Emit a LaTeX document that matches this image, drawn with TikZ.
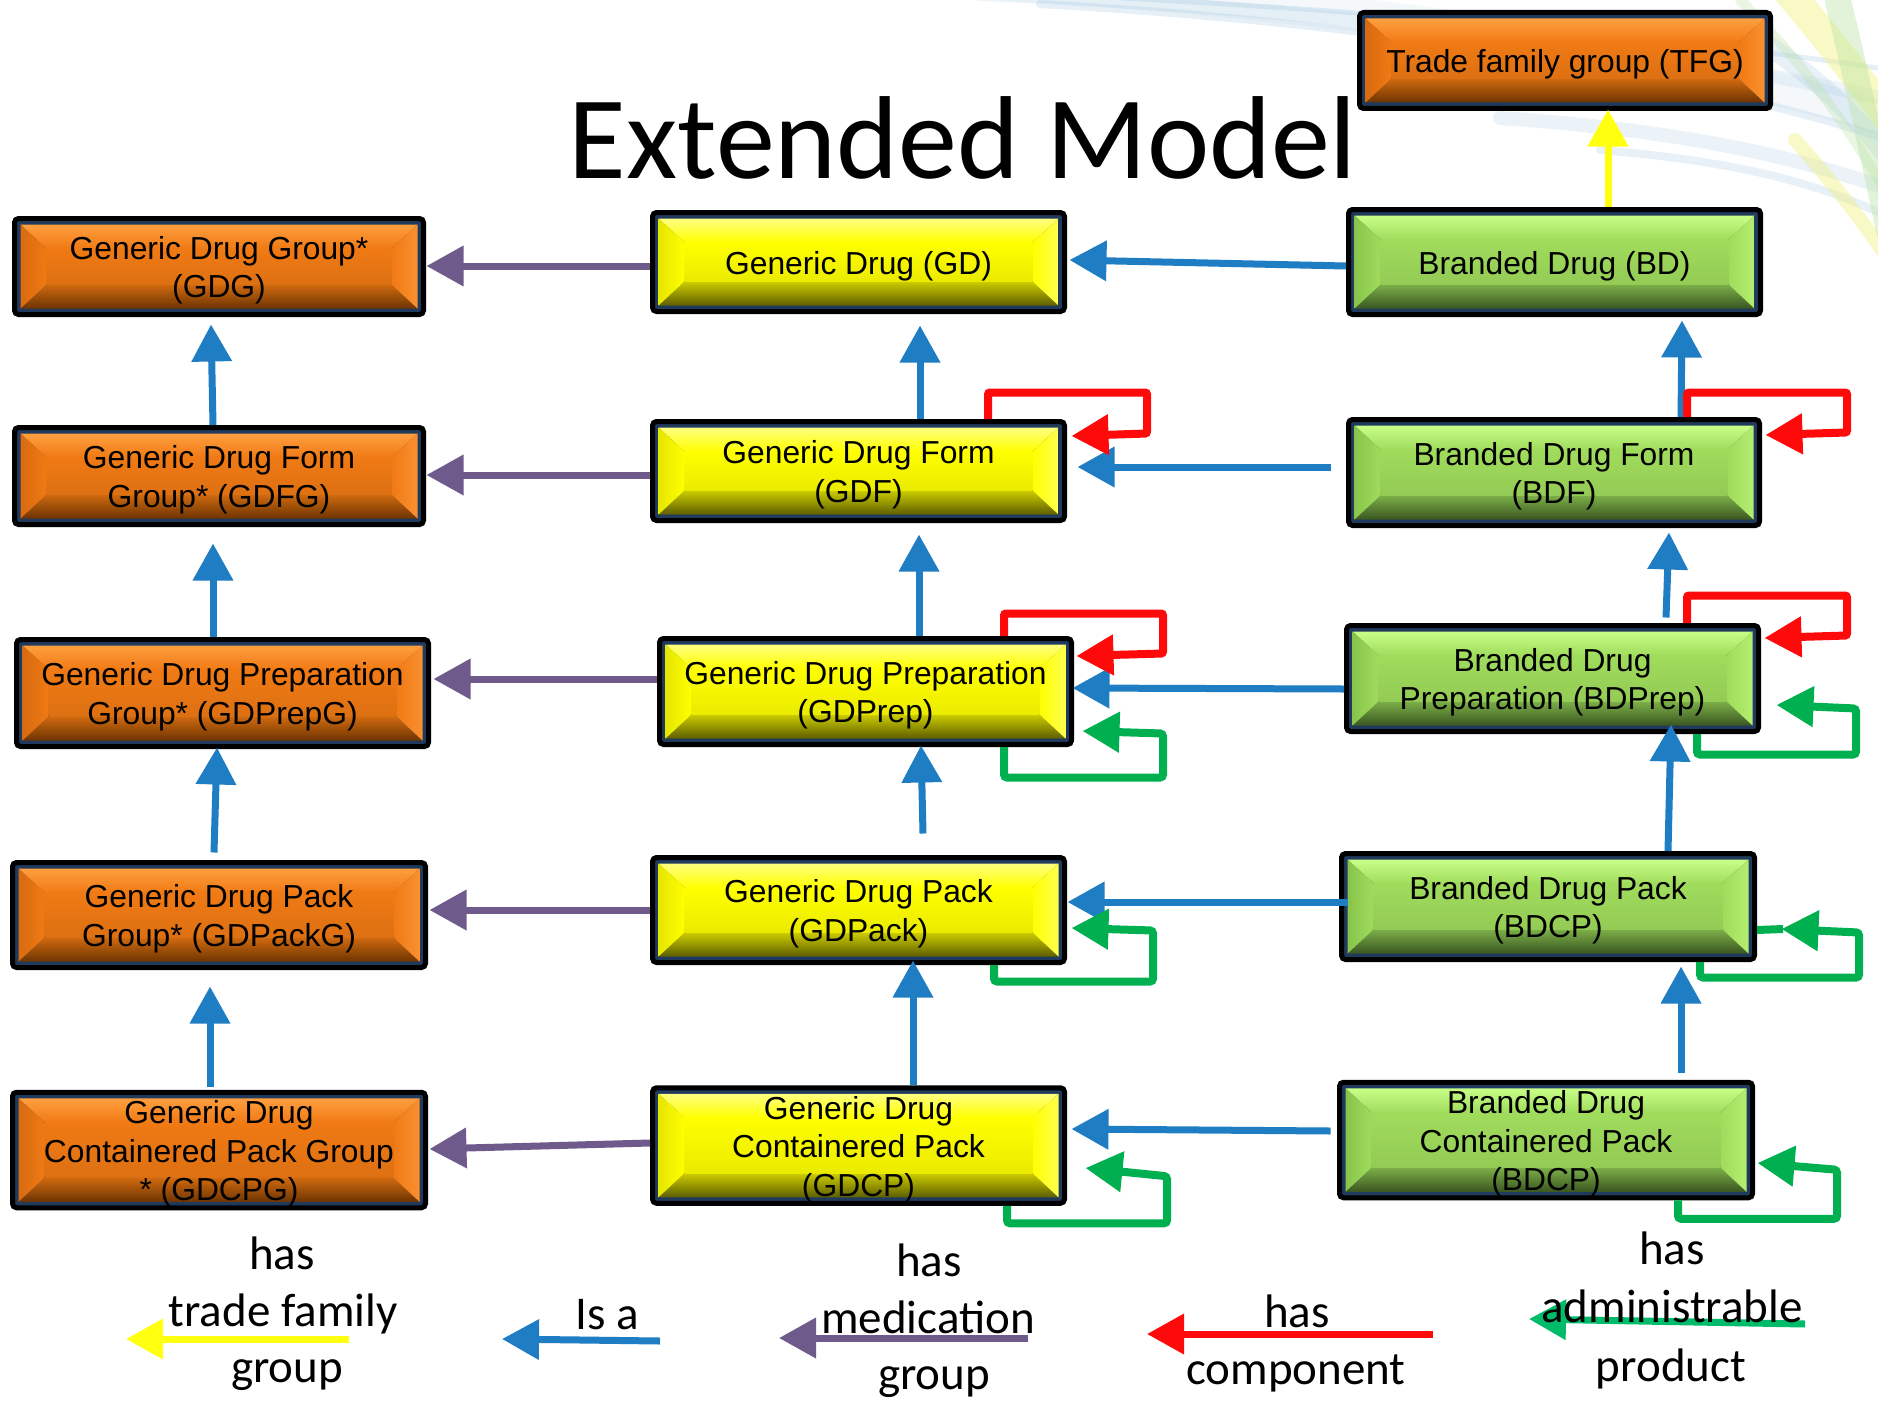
\documentclass[tikz,border=0pt]{standalone}
\usepackage{fontspec}
\newfontfamily\boxfont{Liberation Sans}
\newfontfamily\calfont{Carlito}
\usetikzlibrary{arrows.meta,calc}

% box colours
\definecolor{navyframe}{HTML}{1F3A5C}
\definecolor{boxorange}{HTML}{F07A14}
\definecolor{orangelight}{HTML}{FF9F40}
\definecolor{orangedark}{HTML}{D06A10}
\definecolor{orangedeep}{HTML}{6E3400}
\definecolor{orangeleft}{HTML}{D86A10}
\definecolor{orangeright}{HTML}{FA9030}
\definecolor{boxyellow}{HTML}{FFFF00}
\definecolor{yellowlight}{HTML}{FFFF80}
\definecolor{yellowdark}{HTML}{CDCD00}
\definecolor{yellowdeep}{HTML}{5E5E00}
\definecolor{yellowleft}{HTML}{E6E600}
\definecolor{yellowright}{HTML}{FFFF50}
\definecolor{boxgreen}{HTML}{A0DC5C}
\definecolor{greenlight}{HTML}{C8FF88}
\definecolor{greendark}{HTML}{7CAF48}
\definecolor{greendeep}{HTML}{3A5620}
\definecolor{greenleft}{HTML}{88C44A}
\definecolor{greenright}{HTML}{B4EE70}
% relation colours
\definecolor{isablue}{HTML}{1F7DC4}
\definecolor{medpurple}{HTML}{6E5B8C}
\definecolor{compred}{HTML}{FF0A0A}
\definecolor{admgreen}{HTML}{00B050}
\definecolor{tfyellow}{HTML}{FFFF10}
% background streaks
\definecolor{swblue}{HTML}{9CC3E0}
\definecolor{swyellow}{HTML}{F0F070}
\definecolor{swgreen}{HTML}{B6E2A0}

\tikzset{
  bevelbox/.style n args={6}{% face, light, dark, deep, left, right
    rectangle, rounded corners=4pt, draw=black, line width=5pt,
    inner sep=0pt, align=center, text=black,
    font=\boxfont\fontsize{31.8}{38.5}\selectfont,
    path picture={
      \coordinate (pp-sw) at (path picture bounding box.south west);
      \coordinate (pp-ne) at (path picture bounding box.north east);
      \fill[navyframe, sharp corners] (pp-sw) rectangle (pp-ne);
      \coordinate (o-sw) at ($(pp-sw)+(6pt,6pt)$);
      \coordinate (o-ne) at ($(pp-ne)+(-6pt,-6pt)$);
      \coordinate (i-sw) at ($(o-sw)+(26pt,24pt)$);
      \coordinate (i-ne) at ($(o-ne)+(-26pt,-24pt)$);
      \shade[sharp corners, top color=#2, bottom color=#1]
        (o-sw |- o-ne) -- (o-ne) -- (i-ne) -- (i-sw |- i-ne) -- cycle;
      \shade[sharp corners, top color=#3, bottom color=#4]
        (o-sw) -- (o-ne |- o-sw) -- (i-ne |- i-sw) -- (i-sw) -- cycle;
      \shade[sharp corners, left color=#5, right color=#1]
        (o-sw) -- (i-sw) -- (i-sw |- i-ne) -- (o-sw |- o-ne) -- cycle;
      \shade[sharp corners, left color=#1, right color=#6]
        (o-ne |- o-sw) -- (i-ne |- i-sw) -- (i-ne) -- (o-ne) -- cycle;
      \shade[sharp corners, top color=#1, bottom color=#1!92!black]
        (i-sw) rectangle (i-ne);
    }
  },
  orangebox/.style={bevelbox={boxorange}{orangelight}{orangedark}{orangedeep}{orangeleft}{orangeright}},
  yellowbox/.style={bevelbox={boxyellow}{yellowlight}{yellowdark}{yellowdeep}{yellowleft}{yellowright}},
  greenbox/.style={bevelbox={boxgreen}{greenlight}{greendark}{greendeep}{greenleft}{greenright}},
  conn/.style={line width=7pt, -{Triangle[width=39pt,length=37pt]}},
  isa/.style={conn, draw=isablue},
  medgrp/.style={conn, draw=medpurple},
  tradefam/.style={conn, draw=tfyellow},
  hascomp/.style={conn, draw=compred, line width=8pt, rounded corners=2pt},
  hasadm/.style={conn, draw=admgreen, line width=8pt, rounded corners=3pt},
  admline/.style={draw=admgreen, line width=8pt},
  legtext/.style={inner sep=0pt, anchor=base, text=black,
    font=\calfont\fontsize{47}{57}\selectfont},
}

% \drugbox{name}{style}{x1}{y1}{x2}{y2}{text}: box given by its outer edges,
% text lines set on struts and lowered a little below the centre
\newcommand\drugbox[7]{%
  \node[#2, minimum width={#5pt-#3pt-5pt}, minimum height={#6pt-#4pt-5pt}]
    (#1) at ({(#3+#5)/2},{(#4+#6)/2})
    {\raisebox{-4.5pt}[\height][\depth]{\begin{tabular}{@{}c@{}}#7\end{tabular}}};}

\begin{document}
\begin{tikzpicture}[x=1pt, y=-1pt]
  % canvas
  \fill[white] (0,0) rectangle (1878,1402);
  \useasboundingbox (0,0) rectangle (1878,1402);

  % faint streaks of the slide background, top right
  \begin{scope}[line cap=round]
    \draw[swblue, line width=34, opacity=0.10] (980,-18) .. controls (1330,2) and (1640,45) .. (1890,120);
    \draw[swblue, line width=14, opacity=0.16] (980,-6) .. controls (1300,8) and (1620,40) .. (1890,100);
    \draw[swblue, line width=8, opacity=0.24] (1040,4) .. controls (1360,22) and (1660,66) .. (1890,140);
    \draw[swblue, line width=5, opacity=0.26] (1120,-2) .. controls (1420,14) and (1700,40) .. (1890,70);
    \draw[swblue, line width=14, opacity=0.20] (1500,118) .. controls (1650,128) and (1780,150) .. (1890,190);
    \draw[swblue, line width=8, opacity=0.22] (1600,150) .. controls (1720,160) and (1810,178) .. (1890,218);
    \draw[swblue, line width=20, opacity=0.22] (1760,40) .. controls (1820,80) and (1860,120) .. (1890,160);
    \draw[swyellow, line width=30, opacity=0.40] (1785,-12) .. controls (1825,35) and (1860,80) .. (1890,120);
    \draw[swgreen, line width=26, opacity=0.38] (1835,-12) .. controls (1855,70) and (1872,150) .. (1890,235);
    \draw[swyellow, line width=14, opacity=0.38] (1795,140) .. controls (1835,185) and (1862,220) .. (1890,262);
    \draw[swgreen, line width=10, opacity=0.30] (1740,0) .. controls (1790,50) and (1840,110) .. (1890,200);
  \end{scope}

  % title
  \node[anchor=base, inner sep=0pt, font=\calfont\fontsize{118}{134}\selectfont]
    (title) at (963,178) {Extended Model};

  % generic group column
  \drugbox{GDG}{orangebox}{12}{216}{426}{317}{Generic Drug Group*\\(GDG)}
  \drugbox{GDFG}{orangebox}{12}{425}{426}{527}{Generic Drug Form\\Group* (GDFG)}
  \drugbox{GDPrepG}{orangebox}{14}{637}{431}{749}{Generic Drug Preparation\\Group* (GDPrepG)}
  \drugbox{GDPackG}{orangebox}{10}{860}{428}{970}{Generic Drug Pack\\Group* (GDPackG)}
  \drugbox{GDCPG}{orangebox}{10}{1095}{428}{1205}{Generic Drug\\Containered Pack Group\\{*} (GDCPG)}

  % generic column
  \drugbox{GD}{yellowbox}{650}{210}{1067}{314}{Generic Drug (GD)}
  \drugbox{GDF}{yellowbox}{650}{419}{1067}{523}{Generic Drug Form\\(GDF)}
  \drugbox{GDPrep}{yellowbox}{657}{636}{1074}{747}{Generic Drug Preparation\\(GDPrep)}
  \drugbox{GDPack}{yellowbox}{650}{855}{1067}{965}{Generic Drug Pack\\(GDPack)}
  \drugbox{GDCP}{yellowbox}{650}{1090}{1067}{1201}{Generic Drug\\Containered Pack\\(GDCP)}

  % branded column
  \drugbox{TFG}{orangebox}{1357}{10}{1773}{111}{Trade family group (TFG)}
  \drugbox{BD}{greenbox}{1346}{207}{1763}{317}{Branded Drug (BD)}
  \drugbox{BDF}{greenbox}{1346}{417}{1762}{528}{Branded Drug Form\\(BDF)}
  \drugbox{BDPrep}{greenbox}{1344}{623}{1761}{734}{Branded Drug\\Preparation (BDPrep)}
  \drugbox{BDPack}{greenbox}{1339}{851}{1757}{962}{Branded Drug Pack\\(BDCP)}
  \drugbox{BDCP}{greenbox}{1337}{1084}{1755}{1196}{Branded Drug\\Containered Pack\\(BDCP)}

  % is a: upwards
  \draw[isa] ($(GDFG.north)+(-6,0)$) -- ($(GDG.south)+(-8,7.5)$);
  \draw[isa] ($(GDPrepG.north)+(-9.5,0)$) -- ($(GDFG.south)+(-6,16.5)$);
  \draw[isa] ($(GDPackG.north)+(-5,-7.5)$) -- ($(GDPrepG.south)+(-5.5,-1.5)$);
  \draw[isa] ($(GDCPG.north)+(-9,-2.5)$) -- ($(GDPackG.south)+(-9,16.5)$);
  \draw[isa] ($(GDF.north)+(61.5,0)$) -- ($(GD.south)+(61.5,11.5)$);
  \draw[isa] ($(GDPrep.north)+(53.5,0)$) -- ($(GDF.south)+(60.5,11.5)$);
  \draw[isa] ($(GDPack.north)+(64.5,-21.5)$) -- ($(GDPrep.south)+(55.5,-1.5)$);
  \draw[isa] ($(GDCP.north)+(54.5,0)$) -- ($(GDPack.south)+(54.5,-4.5)$);
  \draw[isa] ($(BDF.north)+(127,0)$) -- ($(BD.south)+(127.5,3.5)$);
  \draw[isa] ($(BDPrep.north)+(113.5,-5.5)$) -- ($(BDF.south)+(115,4.5)$);
  \draw[isa] ($(BDPack.north)+(120,0)$) -- ($(BDPrep.south)+(118.5,-9.5)$);
  \draw[isa] ($(BDCP.north)+(135,-6.5)$) -- ($(BDPack.south)+(133,4.5)$);

  % has trade family group
  \draw[tradefam] ($(BD.north)+(53.5,0)$) -- ($(TFG.south)+(43,-1.5)$);

  % is a: branded to generic
  \draw[isa] ($(BD.west)+(0,4)$) -- ($(GD.east)+(2.5,-2)$);
  \draw[isa] ($(BDF.west)+(-15.5,-5.5)$) -- ($(GDF.east)+(10.5,-4)$);
  \draw[isa] ($(BDPrep.west)+(0,10.5)$) -- ($(GDPrep.east)+(-1.5,-3.5)$);
  \draw[isa] ($(BDPack.west)+(8.5,-4.5)$) -- ($(GDPack.east)+(0.5,-8)$);
  \draw[isa] ($(BDCP.west)+(-6.5,-9)$) -- ($(GDCP.east)+(4.5,-16.5)$);

  % has medication group
  \draw[medgrp] ($(GD.west)+(0,4)$) -- ($(GDG.east)+(0.5,-0.5)$);
  \draw[medgrp] ($(GDF.west)+(0,4)$) -- ($(GDFG.east)+(0.5,-1)$);
  \draw[medgrp] ($(GDPrep.west)+(0,-12.5)$) -- ($(GDPrepG.east)+(2.5,-14)$);
  \draw[medgrp] ($(GDPack.west)+(0,0)$) -- ($(GDPackG.east)+(1.5,-5)$);
  \draw[medgrp] ($(GDCP.west)+(0,-2.5)$) -- ($(GDCPG.east)+(1.5,-1)$);

  % has component: loops over the top right corner
  \draw[hascomp] ($(GDF.north)+(129.5,0)$) -- ++(0,-26.5) -- ++(159,0) -- ++(0,41)
    -- ($(GDF.east)+(4.5,-35)$);
  \draw[hascomp] ($(GDPrep.north)+(138.5,0)$) -- ++(0,-22.5) -- ++(159,0) -- ++(0,40)
    -- ($(GDPrep.east)+(2.5,-35.5)$);
  \draw[hascomp] ($(BDF.north)+(133,0)$) -- ++(0,-24.5) -- ++(160,0) -- ++(0,40)
    -- ($(BDF.east)+(3.5,-37.5)$);
  \draw[hascomp] ($(BDPrep.north)+(134.5,0)$) -- ++(0,-27.5) -- ++(160,0) -- ++(0,40)
    -- ($(BDPrep.east)+(3.5,-40.5)$);

  % has administrable product: loops under the bottom right corner
  \draw[hasadm] ($(GDPrep.south)+(138.5,0)$) -- ++(0,30.5) -- ++(159,0) -- ++(0,-44)
    -- ($(GDPrep.east)+(8.5,39.5)$);
  \draw[hasadm] ($(GDPack.south)+(135.5,0)$) -- ++(0,16.5) -- ++(159,0) -- ++(0,-51)
    -- ($(GDPack.east)+(4.5,18)$);
  \draw[hasadm] ($(GDCP.south)+(148.5,0)$) -- ++(0,17.5) -- ++(160,0) -- ++(0,-47)
    -- ($(GDCP.east)+(18.5,22.5)$);
  \draw[hasadm] ($(BDPrep.south)+(144.5,0)$) -- ++(0,20.5) -- ++(159,0) -- ++(0,-46)
    -- ($(BDPrep.east)+(15.5,26.5)$);
  \draw[hasadm] ($(BDPack.south)+(152,0)$) -- ++(0,15.5) -- ++(159,0) -- ++(0,-45)
    -- ($(BDPack.east)+(24.5,22.5)$);
  \draw[admline] ($(BDPack.east)+(26,22.5)$) -- ($(BDPack.east)+(0,23.5)$);
  \draw[hasadm] ($(BDCP.south)+(132,0)$) -- ++(0,18.5) -- ++(159,0) -- ++(0,-49)
    -- ($(BDCP.east)+(2.5,23)$);

  % legend arrows
  \coordinate (ltf-s) at (349,1339);  \coordinate (ltf-e) at (126,1339);
  \coordinate (lisa-s) at (660,1341); \coordinate (lisa-e) at (502,1339);
  \coordinate (lmed-s) at (1028,1338); \coordinate (lmed-e) at (779,1338);
  \coordinate (lcomp-s) at (1433,1334); \coordinate (lcomp-e) at (1147,1334);
  \coordinate (ladm-s) at (1805,1324); \coordinate (ladm-e) at (1529,1319);
  \draw[tradefam] (ltf-s) -- (ltf-e);
  \draw[isa] (lisa-s) -- (lisa-e);
  \draw[medgrp] (lmed-s) -- (lmed-e);
  \draw[conn, draw=compred] (lcomp-s) -- (lcomp-e);
  \draw[conn, draw=admgreen!85!cyan] (ladm-s) -- (ladm-e);

  % legend labels
  \node[legtext] (ltf1) at (282,1269) {has};
  \node[legtext] (ltf2) at (283,1326) {trade family};
  \node[legtext] (ltf3) at (287,1382) {group};
  \node[legtext] (lisa1) at (607,1329) {Is a};
  \node[legtext] (lmed1) at (929,1276) {has};
  \node[legtext] (lmed2) at (928,1333) {medication};
  \node[legtext] (lmed3) at (934,1389) {group};
  \node[legtext] (lcomp1) at (1297,1327) {has};
  \node[legtext] (lcomp2) at (1296,1384) {component};
  \node[legtext] (ladm1) at (1672,1264) {has};
  \node[legtext] (ladm2) at (1672,1322) {administrable};
  \node[legtext] (ladm3) at (1671,1381) {product};
\end{tikzpicture}
\end{document}
